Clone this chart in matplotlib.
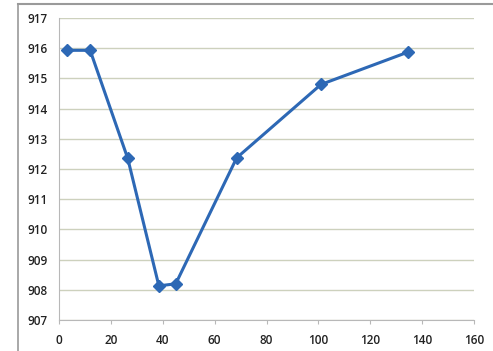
import matplotlib.pyplot as plt
from matplotlib.lines import Line2D

x_values = [3, 12, 26.5, 38.5, 45, 68.5, 101, 134.5]
y_values = [915.93, 915.93, 912.35, 908.13, 908.2, 912.37, 914.8, 915.87]
x_ticks = [0, 20, 40, 60, 80, 100, 120, 140, 160]
y_ticks = [907, 908, 909, 910, 911, 912, 913, 914, 915, 916, 917]

plt.rcParams['font.family'] = ['Open Sans', 'DejaVu Sans']

fig = plt.figure(figsize=(4.93, 3.51), dpi=100)
ax = fig.add_axes([0.1197, 0.0883, 0.8418, 0.8604])

ax.plot(x_values, y_values, color='#2d68b5', linewidth=2.2,
        marker='D', markersize=6.5, markerfacecolor='#2d68b5',
        markeredgecolor='#2d68b5', zorder=3)

ax.set_xlim(0, 160)
ax.set_ylim(907, 917)
ax.set_xticks(x_ticks)
ax.set_yticks(y_ticks)
ax.tick_params(axis='both', labelsize=8.5, colors='#222222', length=3, width=0.8)
ax.tick_params(axis='y', length=0, pad=8)
ax.tick_params(axis='x', pad=7)
for lab in ax.get_xticklabels() + ax.get_yticklabels():
    lab.set_fontweight('semibold')

ax.grid(axis='y', color='#cdd1bd', linewidth=1.0)
ax.set_axisbelow(True)
for side in ['top', 'right']:
    ax.spines[side].set_visible(False)
ax.spines['left'].set_color('#b8b8b8')
ax.spines['bottom'].set_color('#b8b8b8')
ax.tick_params(axis='x', color='#b8b8b8')

# outer chart frame (top and left edges visible)
fig.add_artist(Line2D([18 / 493, 1], [1 - 4 / 351, 1 - 4 / 351],
                      transform=fig.transFigure, color='#9a9a9a', linewidth=1.5))
fig.add_artist(Line2D([18 / 493, 18 / 493], [0, 1 - 4 / 351],
                      transform=fig.transFigure, color='#9a9a9a', linewidth=1.2))

fig.savefig('out.png', dpi=100)
